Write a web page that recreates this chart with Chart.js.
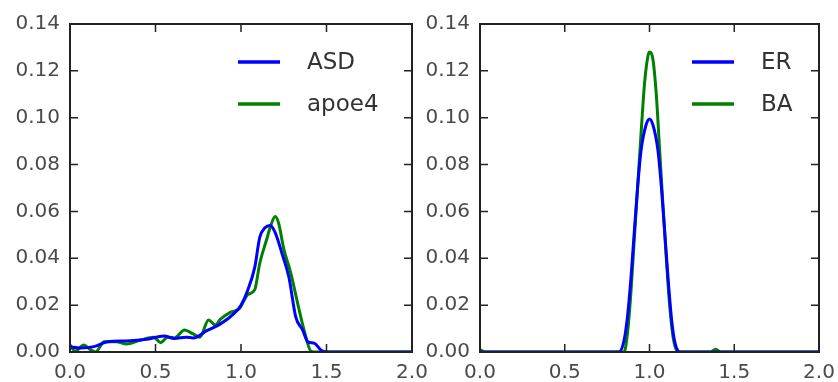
<!DOCTYPE html>
<html>
<head>
<meta charset="utf-8">
<script src="https://cdn.jsdelivr.net/npm/chart.js@4/dist/chart.umd.min.js"></script>
<style>
  html, body { margin: 0; padding: 0; background: #fff; }
  #wrap { position: relative; width: 838px; height: 382px; overflow: hidden; }
  #wrap div { position: absolute; top: 0; height: 382px; }
  #a { left: 0; width: 432px; }
  #b { left: 420px; width: 418px; }
</style>
</head>
<body>
<div id="wrap">
  <div id="a"><canvas id="graficoA"></canvas></div>
  <div id="b"><canvas id="graficoB"></canvas></div>
</div>
<script>
// ticks shared by both panels
const ticksX = [0, 0.5, 1.0, 1.5, 2.0]
const ticksY = [0, 0.02, 0.04, 0.06, 0.08, 0.10, 0.12, 0.14]

// left panel: ASD vs apoe4
const xAsd = [0, 0.06, 0.14, 0.22, 0.33, 0.45, 0.55, 0.61, 0.68, 0.72, 0.8, 0.88, 0.96, 1.0, 1.04, 1.08, 1.11, 1.14, 1.17, 1.2, 1.24, 1.28, 1.32, 1.36, 1.39, 1.43, 1.47, 1.5, 2.0]
const asd = [0.0023, 0.0017, 0.0023, 0.0044, 0.0047, 0.0054, 0.0068, 0.0058, 0.0063, 0.006, 0.0091, 0.012, 0.0165, 0.02, 0.0265, 0.036, 0.049, 0.053, 0.054, 0.051, 0.042, 0.032, 0.015, 0.0094, 0.0044, 0.0037, 0.0006, 0, 0]

const xApoe = [0, 0.03, 0.08, 0.12, 0.15, 0.2, 0.27, 0.33, 0.41, 0.49, 0.53, 0.57, 0.61, 0.67, 0.72, 0.76, 0.81, 0.85, 0.88, 0.94, 0.99, 1.04, 1.08, 1.11, 1.15, 1.17, 1.2, 1.22, 1.25, 1.29, 1.34, 1.37, 1.41, 1.44, 2.0]
const apoe4 = [0.003, 0.0003, 0.003, 0.001, 0, 0.0044, 0.0044, 0.0034, 0.005, 0.0063, 0.004, 0.0063, 0.006, 0.0094, 0.0077, 0.0063, 0.0137, 0.0115, 0.014, 0.017, 0.0185, 0.0245, 0.0265, 0.038, 0.048, 0.053, 0.0578, 0.055, 0.044, 0.034, 0.018, 0.009, 0.0003, 0, 0]

// right panel: ER vs BA
const xEr = [0, 0.82, 0.85, 0.87, 0.89, 0.91, 0.93, 0.95, 0.98, 1.0, 1.02, 1.05, 1.07, 1.09, 1.11, 1.13, 1.15, 1.18, 2.0]
const er = [0, 0, 0.005, 0.015, 0.031, 0.051, 0.0705, 0.086, 0.097, 0.0995, 0.097, 0.086, 0.0705, 0.051, 0.031, 0.014, 0.004, 0, 0]

const xBa = [0, 0.03, 0.85, 0.87, 0.89, 0.91, 0.93, 0.95, 0.97, 0.99, 1.0, 1.02, 1.04, 1.06, 1.08, 1.10, 1.12, 1.14, 1.17, 1.36, 1.39, 1.42, 2.0]
const ba = [0.001, 0, 0, 0.008, 0.025, 0.048, 0.0705, 0.093, 0.114, 0.126, 0.128, 0.125, 0.110, 0.086, 0.062, 0.039, 0.019, 0.006, 0, 0, 0.0012, 0, 0]

const AZUL = '#0000ff'
const VERDE = '#008000'
const fuente = 'DejaVu Sans'

const puntos = (xs, ys) => xs.map((x, i) => ({ x: x, y: ys[i] }))

// marco negro con marcas hacia dentro en los cuatro lados
const marco = {
    id: 'marco',
    afterDatasetsDraw(chart) {
        const { ctx, chartArea: a, scales } = chart
        const largo = 8
        ctx.save()
        ctx.strokeStyle = '#222'
        ctx.lineWidth = 1.5
        ticksX.forEach(v => {
            const px = scales.x.getPixelForValue(v)
            ctx.beginPath()
            ctx.moveTo(px, a.bottom); ctx.lineTo(px, a.bottom - largo)
            ctx.moveTo(px, a.top); ctx.lineTo(px, a.top + largo)
            ctx.stroke()
        })
        ticksY.forEach(v => {
            const py = scales.y.getPixelForValue(v)
            ctx.beginPath()
            ctx.moveTo(a.left, py); ctx.lineTo(a.left + largo, py)
            ctx.moveTo(a.right, py); ctx.lineTo(a.right - largo, py)
            ctx.stroke()
        })
        ctx.lineWidth = 2
        ctx.strokeRect(a.left, a.top, a.right - a.left, a.bottom - a.top)
        ctx.restore()
    }
}

// leyenda dentro del area, arriba a la derecha
const leyenda = {
    id: 'leyenda',
    afterDraw(chart, args, opts) {
        const { ctx, chartArea: a } = chart
        ctx.save()
        ctx.font = '23px ' + fuente
        ctx.textBaseline = 'middle'
        chart.data.datasets.forEach((ds, i) => {
            const y = a.top + 38 + i * 42
            const x0 = a.left + opts.desde
            ctx.strokeStyle = ds.borderColor
            ctx.lineWidth = 3.5
            ctx.beginPath()
            ctx.moveTo(x0, y); ctx.lineTo(x0 + 42, y)
            ctx.stroke()
            ctx.fillStyle = '#333'
            ctx.fillText(ds.label, x0 + 69, y + 1)
        })
        ctx.restore()
    }
}

const crearPanel = (id, series, anchoY, derecha, desde) => {
    new Chart(document.getElementById(id).getContext('2d'), {
        type: 'line',
        data: {
            datasets: series.map(s => ({
                label: s.nombre,
                data: puntos(s.xs, s.ys),
                borderColor: s.color,
                borderWidth: 3,
                pointRadius: 0,
                fill: false,
                cubicInterpolationMode: 'monotone'
            }))
        },
        options: {
            responsive: false,
            animation: false,
            devicePixelRatio: 1,
            layout: { padding: { top: 24, right: derecha, left: 0, bottom: 0 } },
            plugins: {
                legend: { display: false },
                tooltip: { enabled: false },
                leyenda: { desde: desde }
            },
            scales: {
                x: {
                    type: 'linear',
                    min: 0,
                    max: 2,
                    grid: { display: false, drawTicks: false },
                    border: { display: false },
                    afterBuildTicks: s => { s.ticks = ticksX.map(v => ({ value: v })) },
                    afterFit: s => { s.height = 30; s.paddingLeft = 0; s.paddingRight = 0 },
                    ticks: {
                        padding: 9,
                        maxRotation: 0,
                        autoSkip: false,
                        color: '#4a4a4a',
                        font: { family: fuente, size: 20 },
                        callback: v => v.toFixed(1)
                    }
                },
                y: {
                    min: 0,
                    max: 0.14,
                    grid: { display: false, drawTicks: false },
                    border: { display: false },
                    afterBuildTicks: s => { s.ticks = ticksY.map(v => ({ value: v })) },
                    afterFit: s => { s.width = anchoY; s.paddingTop = 0; s.paddingBottom = 0 },
                    ticks: {
                        padding: 10,
                        autoSkip: false,
                        color: '#4a4a4a',
                        font: { family: fuente, size: 20 },
                        callback: v => v.toFixed(2)
                    }
                }
            }
        },
        plugins: [marco, leyenda]
    })
}

const lienzoA = document.getElementById('graficoA')
lienzoA.width = 432; lienzoA.height = 382
const lienzoB = document.getElementById('graficoB')
lienzoB.width = 418; lienzoB.height = 382

crearPanel('graficoA', [
    { nombre: 'ASD', xs: xAsd, ys: asd, color: AZUL },
    { nombre: 'apoe4', xs: xApoe, ys: apoe4, color: VERDE }
], 70, 20, 168)

crearPanel('graficoB', [
    { nombre: 'ER', xs: xEr, ys: er, color: AZUL },
    { nombre: 'BA', xs: xBa, ys: ba, color: VERDE }
], 60, 19, 212)
</script>
</body>
</html>
